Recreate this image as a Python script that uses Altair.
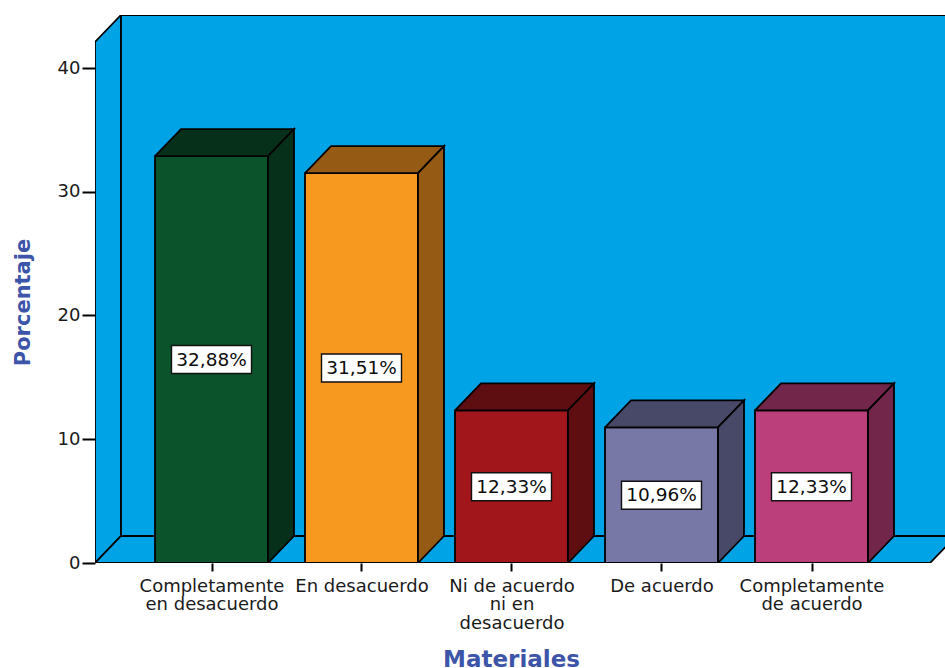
import json
import altair as alt
import pandas as pd

# ---- data ----------------------------------------------------------------
categories = [
    "Completamente en desacuerdo",
    "En desacuerdo",
    "Ni de acuerdo ni en desacuerdo",
    "De acuerdo",
    "Completamente de acuerdo",
]
label_lines = [
    ["Completamente", "en desacuerdo"],
    ["En desacuerdo"],
    ["Ni de acuerdo", "ni en", "desacuerdo"],
    ["De acuerdo"],
    ["Completamente", "de acuerdo"],
]
percentages = [32.88, 31.51, 12.33, 10.96, 12.33]
front_colors = ["#0B532B", "#F7981F", "#A0161B", "#7878A6", "#BA3F7A"]
shade_colors = ["#06301A", "#955A13", "#5E0E11", "#484868", "#71264A"]
y_ticks = [0, 10, 20, 30, 40]

# ---- geometry (in scale units: bar index on x, percent on y) -------------
PX_X = 150.0          # pixels per category step
PX_Y = 12.375         # pixels per percentage point
W, H = 850, 548       # plot area
X_MIN = -116.5 / PX_X             # left edge of the plot (front wall edge)
X_MAX = X_MIN + W / PX_X
Y_MAX = H / PX_Y
DX = 26 / PX_X        # depth offset, horizontal
DY = 27 / PX_Y        # depth offset, vertical
HALF_W = 56.5 / PX_X  # half bar width
WALL_TOP = Y_MAX - DY
FLOOR_RIGHT = X_MIN + 835 / PX_X
WALL_BLUE = "#00A3E6"

rows = []


def poly(pid, color, pts, layer):
    pts = list(pts) + [pts[0]]
    for k, (x, y) in enumerate(pts):
        rows.append(dict(pid=pid, fill=color, k=k, x=x, y=y, layer=layer))


# left wall, back wall and floor
poly("wall_left", WALL_BLUE,
     [(X_MIN, 0), (X_MIN, WALL_TOP), (X_MIN + DX, WALL_TOP + DY), (X_MIN + DX, DY)], 0)
poly("wall_back", WALL_BLUE,
     [(X_MIN + DX, DY), (X_MIN + DX, WALL_TOP + DY),
      (FLOOR_RIGHT + DX, WALL_TOP + DY), (FLOOR_RIGHT + DX, DY)], 0)
poly("floor", WALL_BLUE,
     [(X_MIN, 0), (X_MIN + DX, DY), (FLOOR_RIGHT + DX, DY), (FLOOR_RIGHT, 0)], 0)

# 3D bars: front face, top face, side face
for i, v in enumerate(percentages):
    L, R = i - HALF_W, i + HALF_W
    poly(f"front{i}", front_colors[i], [(L, 0), (L, v), (R, v), (R, 0)], 1)
    poly(f"top{i}", shade_colors[i],
         [(L, v), (L + DX, v + DY), (R + DX, v + DY), (R, v)], 1)
    poly(f"side{i}", shade_colors[i],
         [(R, 0), (R, v), (R + DX, v + DY), (R + DX, DY)], 1)

shapes = pd.DataFrame(rows)

labels = pd.DataFrame({
    "i": list(range(len(percentages))),
    "v": percentages,
})
labels["mid"] = labels["v"] / 2
labels["txt"] = [f"{v:.2f}".replace(".", ",") + "%" for v in percentages]
labels["x1"] = labels["i"] - 40 / PX_X
labels["x2"] = labels["i"] + 40 / PX_X
labels["y1"] = labels["mid"] - 14 / PX_Y
labels["y2"] = labels["mid"] + 14 / PX_Y

# ---- scales / axes -------------------------------------------------------
FONT = "DejaVu Sans"
TITLE_BLUE = "#3D55A8"

x_scale = alt.Scale(domain=[X_MIN, X_MAX], nice=False, zero=False)
y_scale = alt.Scale(domain=[0, Y_MAX], nice=False, zero=False)

x_axis = alt.Axis(
    values=list(range(len(categories))),
    labelExpr=json.dumps(label_lines) + "[datum.value]",
    domain=False, grid=False,
    tickColor="black", tickWidth=2, tickSize=8,
    labelFont=FONT, labelFontSize=18, labelColor="#1A1A1A",
    labelLineHeight=18.5, labelPadding=6,
    labelOverlap=False, labelFlush=False,
    title="Materiales", titleFont=FONT, titleFontSize=23,
    titleFontWeight="bold", titleColor=TITLE_BLUE,
    titleX=416, titleY=85, titleAlign="center", titleBaseline="top",
)
y_axis = alt.Axis(
    values=y_ticks,
    domain=False, grid=False,
    tickColor="black", tickWidth=2, tickSize=13,
    labelFont=FONT, labelFontSize=18, labelColor="#1A1A1A", labelPadding=2,
    title="Porcentaje", titleFont=FONT, titleFontSize=21,
    titleFontWeight="bold", titleColor=TITLE_BLUE,
    titleAngle=-90, titleX=-72, titleY=287,
    titleAlign="center", titleBaseline="middle",
)


def X(field):
    return alt.X(field, type="quantitative", scale=x_scale, axis=x_axis, title="Materiales")


def Y(field):
    return alt.Y(field, type="quantitative", scale=y_scale, axis=y_axis, title="Porcentaje")


def shape_layer(layer):
    return alt.Chart(shapes).transform_filter(
        alt.datum.layer == layer
    ).mark_line(
        stroke="black", strokeWidth=1.8, strokeJoin="miter", clip=True
    ).encode(
        x=X("x"),
        y=Y("y"),
        detail="pid:N",
        order="k:Q",
        fill=alt.Fill("fill:N", scale=None),
    )


boxes = alt.Chart(labels).mark_rect(
    fill="white", stroke="#111111", strokeWidth=1.4
).encode(
    x=X("x1"), x2="x2:Q",
    y=Y("y1"), y2="y2:Q",
)

texts = alt.Chart(labels).mark_text(
    font=FONT, fontSize=18.5, color="#0D0D0D", baseline="middle", align="center"
).encode(
    x=X("i"),
    y=Y("mid"),
    text="txt:N",
)

chart = alt.layer(
    shape_layer(0), shape_layer(1), boxes, texts
).properties(
    width=W, height=H,
    autosize=alt.AutoSizeParams(type="none"),
    padding={"left": 95, "top": 15, "right": 0, "bottom": 105},
    background="white",
).configure_view(stroke=None)

chart.save("out.html", embed_options={"renderer": "svg", "actions": False})
